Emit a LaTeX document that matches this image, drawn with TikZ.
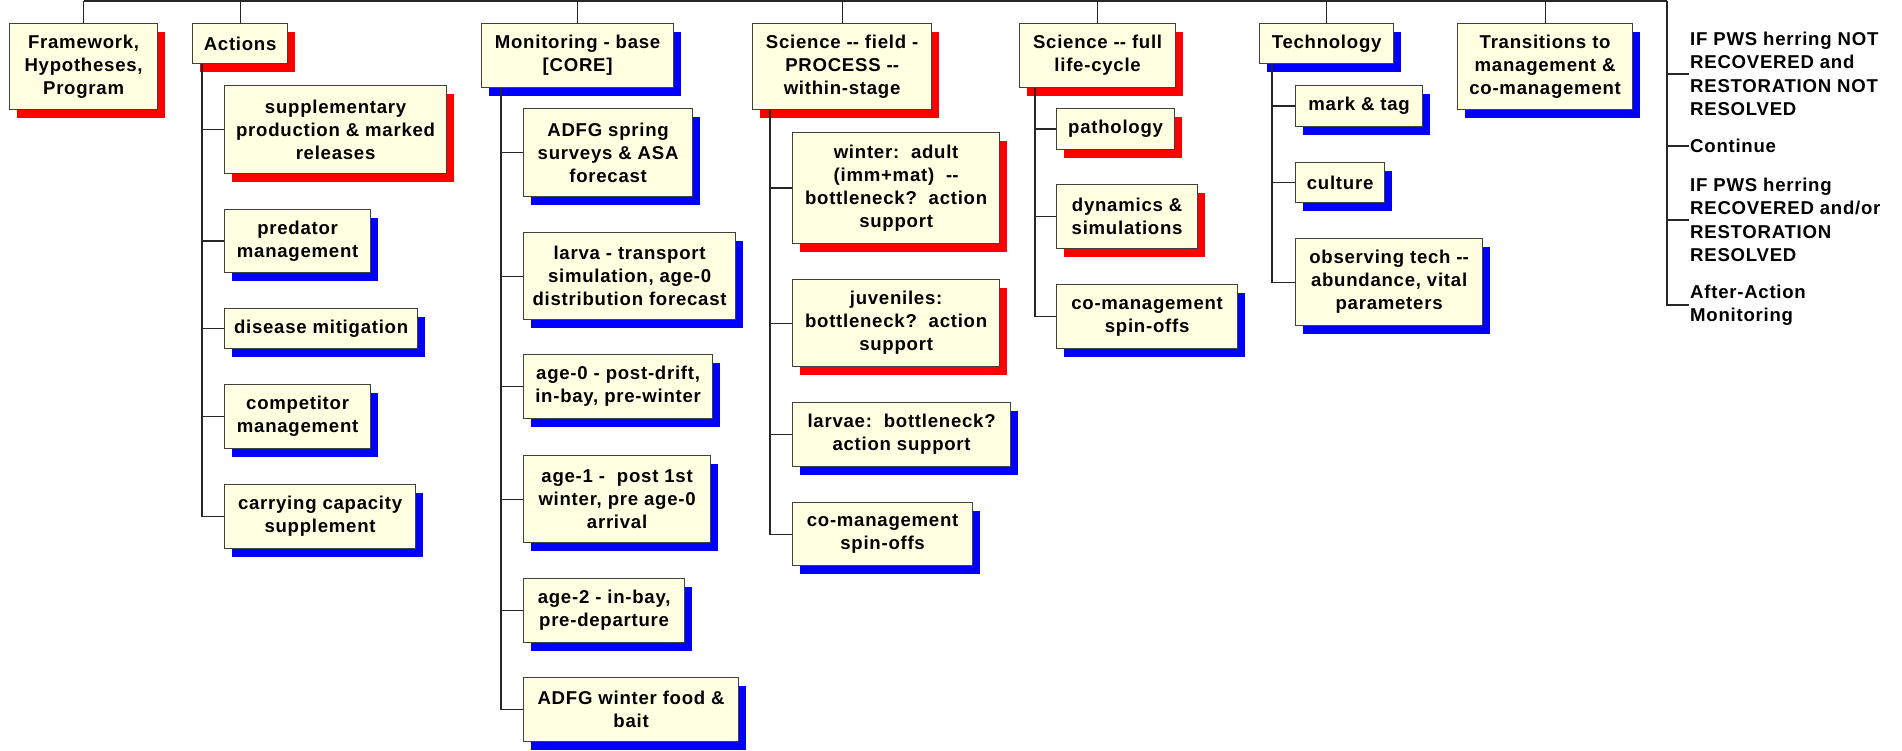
\documentclass[tikz,border=0pt]{standalone}
\usepackage{fontspec}
\newfontfamily\chartfont[LetterSpace=4]{Liberation Sans}
\usetikzlibrary{shadows}
\definecolor{cream}{RGB}{255,255,225}
\newcommand{\dd}{-\kern0pt-}
\tikzset{
    box/.style={draw=black!75, line width=1.2pt, fill=cream, anchor=north west,
        align=center, inner sep=1pt,
        font=\chartfont\bfseries\fontsize{18.6}{23}\selectfont},
    redbox/.style={box, drop shadow={shadow xshift=7pt, shadow yshift=-8pt,
        fill=red, opacity=1, draw=none}},
    bluebox/.style={box, drop shadow={shadow xshift=7pt, shadow yshift=-8pt,
        fill=blue, opacity=1, draw=none}},
    link/.style={line width=1.2pt, draw=black!85},
    note/.style={anchor=west, align=left, inner sep=1pt,
        font=\chartfont\bfseries\fontsize{18.6}{23.5}\selectfont}
}
\begin{document}
\begin{tikzpicture}[x=1pt,y=-1pt]
        \useasboundingbox (0,0) rectangle (1902,751);
        % top row
        \node[redbox, minimum width=148pt, minimum height=86pt] (frame) at (9,23) {Framework,\\Hypotheses,\\Program};
        \node[redbox, minimum width=95pt, minimum height=40pt] (act) at (192,23) {Actions};
        \node[bluebox, minimum width=192pt, minimum height=64pt] (mon) at (481,23) {Monitoring - base\\{[CORE]}};
        \node[redbox, minimum width=179pt, minimum height=86pt] (scf) at (752,23) {Science \dd{} field -\\PROCESS \dd\\within-stage};
        \node[redbox, minimum width=156pt, minimum height=64pt] (scl) at (1019,23) {Science \dd{} full\\life-cycle};
        \node[bluebox, minimum width=134pt, minimum height=40pt] (tech) at (1259,23) {Technology};
        \node[bluebox, minimum width=175pt, minimum height=86pt] (trans) at (1457,23) {Transitions to\\management \&\\co-management};
        % actions
        \node[redbox, minimum width=222pt, minimum height=88pt] (sup) at (224,85) {supplementary\\production \& marked\\releases};
        \node[bluebox, minimum width=146pt, minimum height=63pt] (pred) at (224,209) {predator\\management};
        \node[bluebox, minimum width=193pt, minimum height=40pt] (dis) at (224,308) {disease mitigation};
        \node[bluebox, minimum width=146pt, minimum height=64pt] (comp) at (224,384) {competitor\\management};
        \node[bluebox, minimum width=191pt, minimum height=64pt] (carry) at (224,484) {carrying capacity\\supplement};
        % monitoring
        \node[bluebox, minimum width=169pt, minimum height=88pt] (spring) at (523,108) {ADFG spring\\surveys \& ASA\\forecast};
        \node[bluebox, minimum width=212pt, minimum height=87pt] (larva) at (523,232) {larva - transport\\simulation, age-0\\distribution forecast};
        \node[bluebox, minimum width=189pt, minimum height=64pt] (agez) at (523,354) {age-0 - post-drift,\\in-bay, pre-winter};
        \node[bluebox, minimum width=187pt, minimum height=87pt] (agea) at (523,455) {age-1 -\ \ post 1st\\winter, pre age-0\\arrival};
        \node[bluebox, minimum width=161pt, minimum height=64pt] (ageb) at (523,578) {age-2 - in-bay,\\pre-departure};
        \node[bluebox, minimum width=215pt, minimum height=64pt] (food) at (523,677) {ADFG winter food \&\\bait};
        % science - field
        \node[redbox, minimum width=207pt, minimum height=111pt] (wint) at (792,132) {winter:\ \ adult\\(imm+mat)\ \ \dd\\bottleneck?\ \ action\\support};
        \node[redbox, minimum width=207pt, minimum height=87pt] (juv) at (792,279) {juveniles:\\bottleneck?\ \ action\\support};
        \node[bluebox, minimum width=218pt, minimum height=64pt] (larv) at (792,402) {larvae:\ \ bottleneck?\\action support};
        \node[bluebox, minimum width=180pt, minimum height=63pt] (coa) at (792,502) {co-management\\spin-offs};
        % science - life-cycle
        \node[redbox, minimum width=118pt, minimum height=41pt] (path) at (1056,108) {pathology};
        \node[redbox, minimum width=141pt, minimum height=64pt] (dyn) at (1056,184) {dynamics \&\\simulations};
        \node[bluebox, minimum width=181pt, minimum height=64pt] (cob) at (1056,284) {co-management\\spin-offs};
        % technology
        \node[bluebox, minimum width=127pt, minimum height=41pt] (mark) at (1295,85) {mark \& tag};
        \node[bluebox, minimum width=89pt, minimum height=40pt] (cult) at (1295,162) {culture};
        \node[bluebox, minimum width=187pt, minimum height=87pt] (obs) at (1295,238) {observing tech \dd\\abundance, vital\\parameters};
        % outcomes
        \node[note] (nota) at (1689,74) {IF PWS herring NOT\\RECOVERED and\\RESTORATION NOT\\RESOLVED};
        \node[note] (notb) at (1689,146) {Continue};
        \node[note] (notc) at (1689,220) {IF PWS herring\\RECOVERED and/or\\RESTORATION\\RESOLVED};
        \node[note] (notd) at (1689,305) {After-Action\\Monitoring};

        \coordinate (bus) at (1667,1);
        \draw[link] (frame.north |- bus) -- (bus);
        \foreach \n in {frame,act,mon,scf,scl,tech,trans} {
            \draw[link] (\n.north) -- (\n.north |- bus);
        }
        \foreach \n in {nota,notb,notc,notd} {
            \draw[link] (bus) |- (\n.west);
        }
        \foreach \c in {sup,pred,dis,comp,carry} {
            \draw[link] ([xshift=10pt]act.south west) |- (\c.west);
        }
        \foreach \c in {spring,larva,agez,agea,ageb,food} {
            \draw[link] ([xshift=20pt]mon.south west) |- (\c.west);
        }
        \foreach \c in {wint,juv,larv,coa} {
            \draw[link] ([xshift=18pt]scf.south west) |- (\c.west);
        }
        \foreach \c in {path,dyn,cob} {
            \draw[link] ([xshift=16pt]scl.south west) |- (\c.west);
        }
        \foreach \c in {mark,cult,obs} {
            \draw[link] ([xshift=13pt]tech.south west) |- (\c.west);
        }
    \end{tikzpicture}
\end{document}
